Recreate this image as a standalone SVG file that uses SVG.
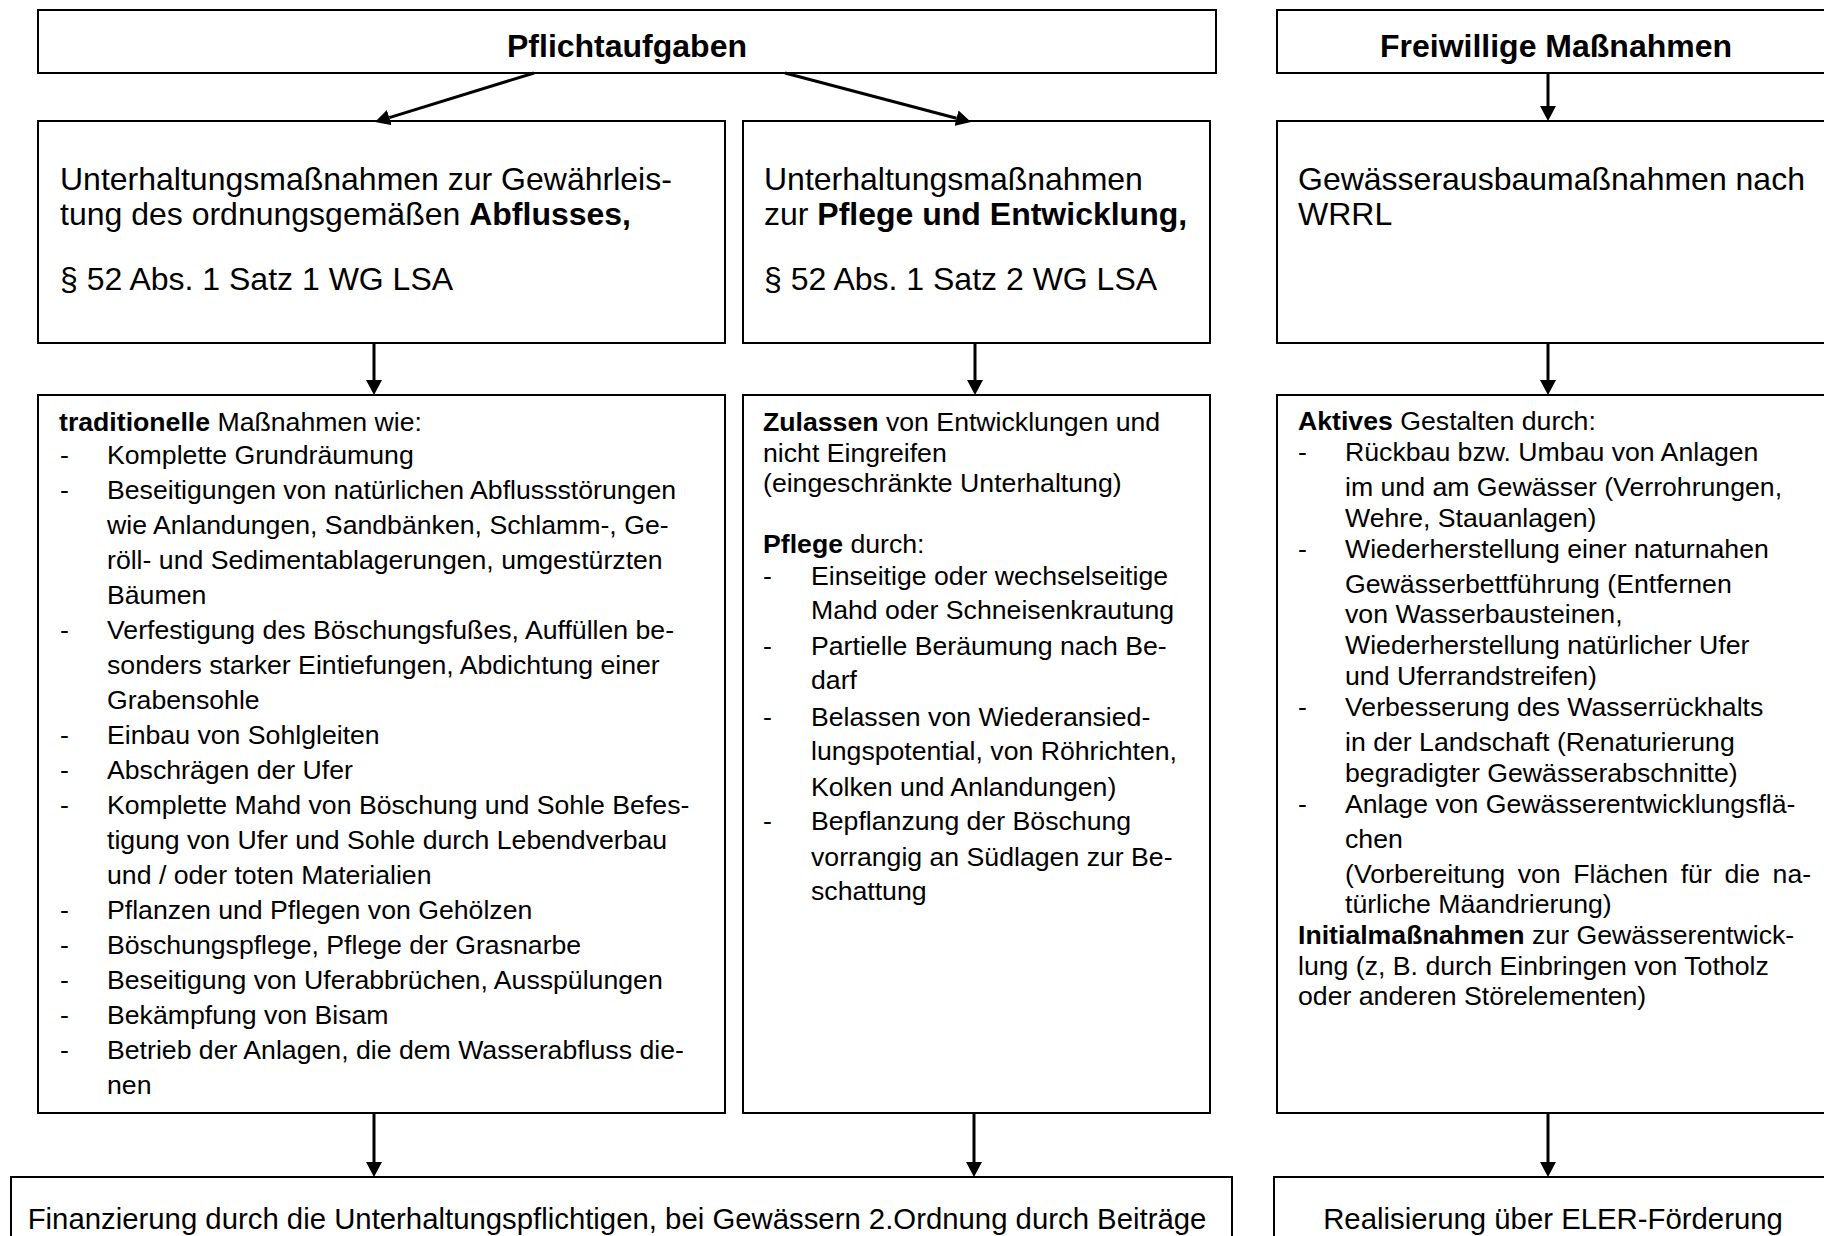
<svg xmlns="http://www.w3.org/2000/svg" width="1824" height="1236" viewBox="0 0 1824 1236">
<defs>
<style>
.box{fill:#fff;stroke:#000;stroke-width:2}
text{font-family:"Liberation Sans",Arial,sans-serif;fill:#000}
.h{font-size:32px}
.bd{font-size:26.67px}
.f{font-size:29.33px}
.b{font-weight:bold}
.conn{stroke:#000;stroke-width:3;fill:none}
</style>
<marker id="ah" markerUnits="userSpaceOnUse" markerWidth="15" markerHeight="16" viewBox="0 0 15 16" refX="0" refY="8" orient="auto">
<path d="M0,0 L15,8 L0,16 z" fill="#000"/>
</marker>
</defs>
<rect width="1824" height="1236" fill="#fff"/>

<g id="pflichtaufgaben">
<rect class="box" x="38" y="10" width="1178" height="63"/>
<text class="h b" x="627" y="57" text-anchor="middle">Pflichtaufgaben</text>
</g>

<g id="freiwillige">
<rect class="box" x="1277" y="10" width="560" height="63"/>
<text class="h b" x="1556" y="57" text-anchor="middle">Freiwillige Maßnahmen</text>
</g>

<g id="abfluss">
<rect class="box" x="38" y="121" width="687" height="222"/>
<text class="h" x="60" y="190">Unterhaltungsmaßnahmen zur Gewährleis-</text>
<text class="h" x="60" y="225">tung des ordnungsgemäßen <tspan class="b">Abflusses,</tspan></text>
<text class="h" x="60" y="290">§ 52 Abs. 1 Satz 1 WG LSA</text>
</g>

<g id="pflege">
<rect class="box" x="743" y="121" width="467" height="222"/>
<text class="h" x="764" y="190">Unterhaltungsmaßnahmen</text>
<text class="h" x="764" y="225">zur <tspan class="b">Pflege und Entwicklung,</tspan></text>
<text class="h" x="764" y="290">§ 52 Abs. 1 Satz 2 WG LSA</text>
</g>

<g id="ausbau">
<rect class="box" x="1277" y="121" width="560" height="222"/>
<text class="h" x="1298" y="190">Gewässerausbaumaßnahmen nach</text>
<text class="h" x="1298" y="225">WRRL</text>
</g>

<g id="traditionell">
<rect class="box" x="38" y="395" width="687" height="718"/>
<text class="bd" x="59" y="431"><tspan class="b">traditionelle</tspan> Maßnahmen wie:</text>
<text class="bd" x="60" y="464">-</text><text class="bd" x="107" y="464">Komplette Grundräumung</text>
<text class="bd" x="60" y="499">-</text><text class="bd" x="107" y="499">Beseitigungen von natürlichen Abflussstörungen</text>
<text class="bd" x="107" y="534">wie Anlandungen, Sandbänken, Schlamm-, Ge-</text>
<text class="bd" x="107" y="569">röll- und Sedimentablagerungen, umgestürzten</text>
<text class="bd" x="107" y="604">Bäumen</text>
<text class="bd" x="60" y="639">-</text><text class="bd" x="107" y="639">Verfestigung des Böschungsfußes, Auffüllen be-</text>
<text class="bd" x="107" y="674">sonders starker Eintiefungen, Abdichtung einer</text>
<text class="bd" x="107" y="709">Grabensohle</text>
<text class="bd" x="60" y="744">-</text><text class="bd" x="107" y="744">Einbau von Sohlgleiten</text>
<text class="bd" x="60" y="779">-</text><text class="bd" x="107" y="779">Abschrägen der Ufer</text>
<text class="bd" x="60" y="814">-</text><text class="bd" x="107" y="814">Komplette Mahd von Böschung und Sohle Befes-</text>
<text class="bd" x="107" y="849">tigung von Ufer und Sohle durch Lebendverbau</text>
<text class="bd" x="107" y="884">und / oder toten Materialien</text>
<text class="bd" x="60" y="919">-</text><text class="bd" x="107" y="919">Pflanzen und Pflegen von Gehölzen</text>
<text class="bd" x="60" y="954">-</text><text class="bd" x="107" y="954">Böschungspflege, Pflege der Grasnarbe</text>
<text class="bd" x="60" y="989">-</text><text class="bd" x="107" y="989">Beseitigung von Uferabbrüchen, Ausspülungen</text>
<text class="bd" x="60" y="1024">-</text><text class="bd" x="107" y="1024">Bekämpfung von Bisam</text>
<text class="bd" x="60" y="1059">-</text><text class="bd" x="107" y="1059">Betrieb der Anlagen, die dem Wasserabfluss die-</text>
<text class="bd" x="107" y="1094">nen</text>
</g>

<g id="zulassen">
<rect class="box" x="743" y="395" width="467" height="718"/>
<text class="bd" x="763" y="431"><tspan class="b">Zulassen</tspan> von Entwicklungen und</text>
<text class="bd" x="763" y="462">nicht Eingreifen</text>
<text class="bd" x="763" y="492">(eingeschränkte Unterhaltung)</text>
<text class="bd" x="763" y="553"><tspan class="b">Pflege</tspan> durch:</text>
<text class="bd" x="763" y="585">-</text><text class="bd" x="811" y="585">Einseitige oder wechselseitige</text>
<text class="bd" x="811" y="619">Mahd oder Schneisenkrautung</text>
<text class="bd" x="763" y="655">-</text><text class="bd" x="811" y="655">Partielle Beräumung nach Be-</text>
<text class="bd" x="811" y="689">darf</text>
<text class="bd" x="763" y="726">-</text><text class="bd" x="811" y="726">Belassen von Wiederansied-</text>
<text class="bd" x="811" y="760">lungspotential, von Röhrichten,</text>
<text class="bd" x="811" y="796">Kolken und Anlandungen)</text>
<text class="bd" x="763" y="830">-</text><text class="bd" x="811" y="830">Bepflanzung der Böschung</text>
<text class="bd" x="811" y="866">vorrangig an Südlagen zur Be-</text>
<text class="bd" x="811" y="900">schattung</text>
</g>

<g id="aktiv">
<rect class="box" x="1277" y="395" width="560" height="718"/>
<text class="bd" x="1298" y="430"><tspan class="b">Aktives</tspan> Gestalten durch:</text>
<text class="bd" x="1298" y="461">-</text><text class="bd" x="1345" y="461">Rückbau bzw. Umbau von Anlagen</text>
<text class="bd" x="1345" y="496">im und am Gewässer (Verrohrungen,</text>
<text class="bd" x="1345" y="527">Wehre, Stauanlagen)</text>
<text class="bd" x="1298" y="558">-</text><text class="bd" x="1345" y="558">Wiederherstellung einer naturnahen</text>
<text class="bd" x="1345" y="593">Gewässerbettführung (Entfernen</text>
<text class="bd" x="1345" y="623">von Wasserbausteinen,</text>
<text class="bd" x="1345" y="654">Wiederherstellung natürlicher Ufer</text>
<text class="bd" x="1345" y="685">und Uferrandstreifen)</text>
<text class="bd" x="1298" y="716">-</text><text class="bd" x="1345" y="716">Verbesserung des Wasserrückhalts</text>
<text class="bd" x="1345" y="751">in der Landschaft (Renaturierung</text>
<text class="bd" x="1345" y="782">begradigter Gewässerabschnitte)</text>
<text class="bd" x="1298" y="813">-</text><text class="bd" x="1345" y="813">Anlage von Gewässerentwicklungsflä-</text>
<text class="bd" x="1345" y="848">chen</text>
<text class="bd" x="1345" y="883" word-spacing="5.2">(Vorbereitung von Flächen für die na-</text>
<text class="bd" x="1345" y="913">türliche Mäandrierung)</text>
<text class="bd" x="1298" y="944"><tspan class="b">Initialmaßnahmen</tspan> zur Gewässerentwick-</text>
<text class="bd" x="1298" y="975">lung (z, B. durch Einbringen von Totholz</text>
<text class="bd" x="1298" y="1005">oder anderen Störelementen)</text>
</g>

<g id="finanzierung">
<rect class="box" x="11" y="1177" width="1221" height="80"/>
<text class="f" x="617" y="1229" text-anchor="middle">Finanzierung durch die Unterhaltungspflichtigen, bei Gewässern 2.Ordnung durch Beiträge</text>
</g>

<g id="eler">
<rect class="box" x="1274" y="1177" width="563" height="80"/>
<text class="f" x="1553" y="1229" text-anchor="middle">Realisierung über ELER-Förderung</text>
</g>

<g id="connectors">
<path class="conn" d="M534,73 L389.3,117.6" marker-end="url(#ah)"/>
<path class="conn" d="M785,73 L956.5,118.2" marker-end="url(#ah)"/>
<path class="conn" d="M1548,73 L1548,106" marker-end="url(#ah)"/>
<path class="conn" d="M374,343 L374,380" marker-end="url(#ah)"/>
<path class="conn" d="M975,343 L975,380" marker-end="url(#ah)"/>
<path class="conn" d="M1548,343 L1548,380" marker-end="url(#ah)"/>
<path class="conn" d="M374,1113 L374,1162" marker-end="url(#ah)"/>
<path class="conn" d="M974,1113 L974,1162" marker-end="url(#ah)"/>
<path class="conn" d="M1548,1113 L1548,1162" marker-end="url(#ah)"/>
</g>
</svg>
